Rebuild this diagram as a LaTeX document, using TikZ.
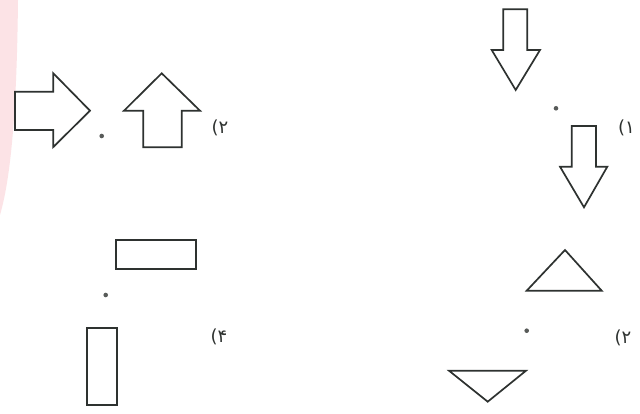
\documentclass[tikz,border=0pt]{standalone}
\usepackage{fontspec}
\newfontfamily\arabicfont[Script=Arabic]{DejaVu Sans}
\TeXXeTstate=1
\definecolor{edgepink}{HTML}{FCE3E6}
\definecolor{ink}{HTML}{2E3230}
\begin{document}
\begin{tikzpicture}[x=1pt,y=-1pt,
  figline/.style={draw=ink, line width=1.7pt, line join=miter},
  centerdot/.style={circle, fill=ink!80, inner sep=0pt, minimum size=4.6pt},
  lbl/.style={inner sep=0pt, font=\arabicfont\fontsize{18}{18}\selectfont, text=ink}]
\useasboundingbox (0,0) rectangle (640,414);
\fill[white] (0,0) rectangle (640,414);
% pink strip at left edge
\fill[edgepink] (0,0) -- (18,0) .. controls (17,90) and (13,170) .. (0,215) -- cycle;

% --- (2) top-left: right arrow and up arrow
\draw[figline] (15,91.7) -- (53.3,91.7) -- (53.3,73.3) -- (90,110.7) -- (53.3,147) -- (53.3,130) -- (15,130) -- cycle;
\node[centerdot] (d1) at (101.7,136) {};
\draw[figline] (143.3,147.3) -- (143.3,110.7) -- (124,110.7) -- (161.7,73.3) -- (200,110.7) -- (181.7,110.7) -- (181.7,147.3) -- cycle;
\node[lbl] (l1) at (220,128) {\beginR ۲)\endR};

% --- (1) top-right: two down arrows
\draw[figline] (503.3,9.3) -- (527.3,9.3) -- (527.3,50) -- (540,50) -- (515.7,90) -- (491.7,50) -- (503.3,50) -- cycle;
\node[centerdot] (d2) at (556,108.3) {};
\draw[figline] (571.7,126) -- (596,126) -- (596,166.7) -- (607.3,166.7) -- (584,207.3) -- (560,166.7) -- (571.7,166.7) -- cycle;
\node[lbl, anchor=west] (l2) at (618,127.5) {\beginR ۱)\endR};

% --- (4) bottom-left: two rectangles
\draw[figline] (116,240) rectangle (195.7,269);
\node[centerdot] (d3) at (105.7,295) {};
\draw[figline] (87.3,328.3) rectangle (117.3,405);
\node[lbl] (l3) at (219,337) {\beginR ۴)\endR};

% --- (3) bottom-right: two triangles
\draw[figline] (526.7,290.7) -- (565,250) -- (601.7,290.7) -- cycle;
\node[centerdot] (d4) at (526.7,330.7) {};
\draw[figline] (449,370.7) -- (526,370.7) -- (487.7,401.7) -- cycle;
\node[lbl] (l4) at (623,338) {\beginR ۲)\endR};
\end{tikzpicture}
\end{document}
